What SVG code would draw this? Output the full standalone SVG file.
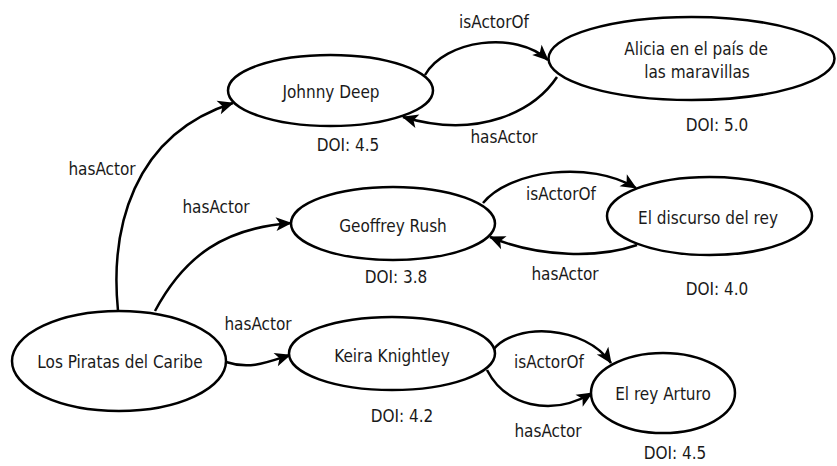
<svg xmlns="http://www.w3.org/2000/svg" width="837" height="466" viewBox="0 0 837 466">
<style>
.n{fill:#fff;stroke:#000;stroke-width:2.5}
.e{fill:none;stroke:#000;stroke-width:2.5}
text{font-family:'DejaVu Sans Condensed','DejaVu Sans',sans-serif;font-stretch:condensed;font-size:17px;fill:#1a1a1a;text-anchor:middle}
</style>
<defs>
<marker id="arr" markerUnits="userSpaceOnUse" markerWidth="18" markerHeight="16" refX="15" refY="7" orient="auto" overflow="visible">
<path d="M0,0 L16,7 L0,14 L4,7 Z" fill="#000"/>
</marker>
</defs>
<rect width="837" height="466" fill="#fff"/>
<g id="connectors">
<path class="e" marker-end="url(#arr)" d="M118,311 C110,230 132,135 233,103"/>
<path class="e" marker-end="url(#arr)" d="M155,311 C185,255 225,228 291,223"/>
<path class="e" marker-end="url(#arr)" d="M226,362 C250,370 268,362 290,355"/>
<path class="e" marker-end="url(#arr)" d="M425,75 C445,40 515,30 548,60"/>
<path class="e" marker-end="url(#arr)" d="M557,77 C535,110 480,140 403,117"/>
<path class="e" marker-end="url(#arr)" d="M483,203 C510,170 590,160 636,188"/>
<path class="e" marker-end="url(#arr)" d="M637,245 C600,258 540,258 490,237"/>
<path class="e" marker-end="url(#arr)" d="M493,350 C515,322 585,325 611,363"/>
<path class="e" marker-end="url(#arr)" d="M487,370 C505,405 550,418 592,393"/>
<text x="102" y="175">hasActor</text>
<text x="216" y="213">hasActor</text>
<text x="258" y="330">hasActor</text>
<text x="494" y="28">isActorOf</text>
<text x="504" y="143">hasActor</text>
<text x="561" y="200">isActorOf</text>
<text x="565" y="280">hasActor</text>
<text x="549" y="368">isActorOf</text>
<text x="548" y="437">hasActor</text>
</g>
<g id="johnny">
<ellipse class="n" cx="330.5" cy="90.5" rx="102.5" ry="35.5"/>
<text x="331" y="98">Johnny Deep</text>
<text x="348" y="151">DOI: 4.5</text>
</g>
<g id="alicia">
<ellipse class="n" cx="691.5" cy="58.5" rx="143" ry="41.5"/>
<text x="696" y="55">Alicia en el país de</text>
<text x="697" y="78">las maravillas</text>
<text x="717" y="131">DOI: 5.0</text>
</g>
<g id="geoffrey">
<ellipse class="n" cx="393" cy="223.5" rx="102" ry="36.5"/>
<text x="393" y="232">Geoffrey Rush</text>
<text x="396" y="283">DOI: 3.8</text>
</g>
<g id="discurso">
<ellipse class="n" cx="709.5" cy="216" rx="102.5" ry="39"/>
<text x="708" y="224">El discurso del rey</text>
<text x="717" y="295">DOI: 4.0</text>
</g>
<g id="piratas">
<ellipse class="n" cx="119" cy="361" rx="107" ry="50"/>
<text x="120" y="368">Los Piratas del Caribe</text>
</g>
<g id="keira">
<ellipse class="n" cx="392" cy="353.5" rx="103" ry="36.5"/>
<text x="392" y="362">Keira Knightley</text>
<text x="402" y="422">DOI: 4.2</text>
</g>
<g id="arturo">
<ellipse class="n" cx="663" cy="393" rx="72" ry="40"/>
<text x="663" y="400">El rey Arturo</text>
<text x="675" y="459">DOI: 4.5</text>
</g>
</svg>
